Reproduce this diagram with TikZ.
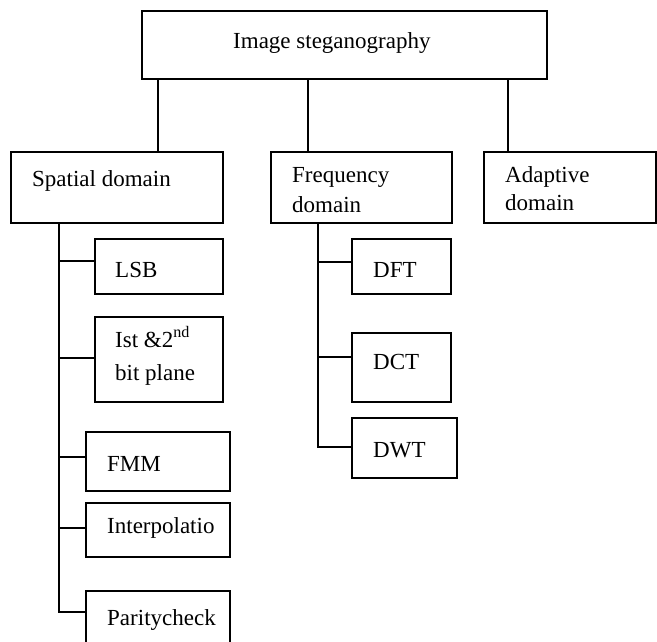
\documentclass[tikz,border=0pt]{standalone}
\usepackage{fontspec}
\setmainfont{Liberation Serif}
\begin{document}
\begin{tikzpicture}[x=1pt,y=-1pt,
  box/.style={draw, line width=1.1pt, anchor=north west, inner sep=0pt, outer sep=0pt},
  txt/.style={anchor=base west, inner sep=0pt, font=\fontsize{23}{27}\selectfont},
  conn/.style={line width=1.1pt}]
\useasboundingbox (0,0) rectangle (657,641);
\clip (0,0) rectangle (657,641);
% boxes
\node[box, minimum width=405pt, minimum height=68pt] (top) at (142,11) {};
\node[box, minimum width=212pt, minimum height=71pt] (spatial) at (11,152) {};
\node[box, minimum width=181pt, minimum height=71pt] (freq) at (271,152) {};
\node[box, minimum width=172pt, minimum height=71pt] (adapt) at (484,152) {};
\node[box, minimum width=128pt, minimum height=55pt] (lsb) at (95,239) {};
\node[box, minimum width=128pt, minimum height=85pt] (ist) at (95,317) {};
\node[box, minimum width=144pt, minimum height=59pt] (fmm) at (86,432) {};
\node[box, minimum width=144pt, minimum height=54pt] (interp) at (86,503) {};
\node[box, minimum width=144pt, minimum height=69pt] (parity) at (86,591) {};
\node[box, minimum width=99pt, minimum height=55pt] (dft) at (352,239) {};
\node[box, minimum width=99pt, minimum height=69pt] (dct) at (352,333) {};
\node[box, minimum width=105pt, minimum height=60pt] (dwt) at (352,418) {};
% texts
\node[txt] (topT) at (233,48) {Image steganography};
\node[txt] (spatialT) at (32,186) {Spatial domain};
\node[txt] (freqT1) at (292,182) {Frequency};
\node[txt] (freqT2) at (292,212) {domain};
\node[txt] (adaptT1) at (505,182) {Adaptive};
\node[txt] (adaptT2) at (505,210) {domain};
\node[txt] (lsbT) at (115,277) {LSB};
\node[txt] (istT1) at (115,347) {Ist \&2\textsuperscript{nd}};
\node[txt] (istT2) at (115,380) {bit plane};
\node[txt] (fmmT) at (107,471) {FMM};
\node[txt] (interpT) at (107,533) {Interpolatio};
\node[txt] (parityT) at (107,625) {Paritycheck};
\node[txt] (dftT) at (373,277) {DFT};
\node[txt] (dctT) at (373,369) {DCT};
\node[txt] (dwtT) at (373,457) {DWT};
% top connectors
\coordinate (c1) at (158,0);
\coordinate (c2) at (308,0);
\coordinate (c3) at (508,0);
\draw[conn] (top.south -| c1) -- (spatial.north -| c1);
\draw[conn] (top.south -| c2) -- (freq.north -| c2);
\draw[conn] (top.south -| c3) -- (adapt.north -| c3);
% spatial trunk
\coordinate (s1) at (59,261);
\coordinate (s2) at (59,358);
\coordinate (s3) at (59,457);
\coordinate (s4) at (59,528);
\coordinate (s5) at (59,612);
\draw[conn] (spatial.south -| s5) |- (parity.west |- s5);
\draw[conn] (s1) -- (lsb.west |- s1);
\draw[conn] (s2) -- (ist.west |- s2);
\draw[conn] (s3) -- (fmm.west |- s3);
\draw[conn] (s4) -- (interp.west |- s4);
% frequency trunk
\coordinate (f1) at (318,262);
\coordinate (f2) at (318,357);
\coordinate (f3) at (318,447);
\draw[conn] (freq.south -| f3) |- (dwt.west |- f3);
\draw[conn] (f1) -- (dft.west |- f1);
\draw[conn] (f2) -- (dct.west |- f2);
\end{tikzpicture}
\end{document}
